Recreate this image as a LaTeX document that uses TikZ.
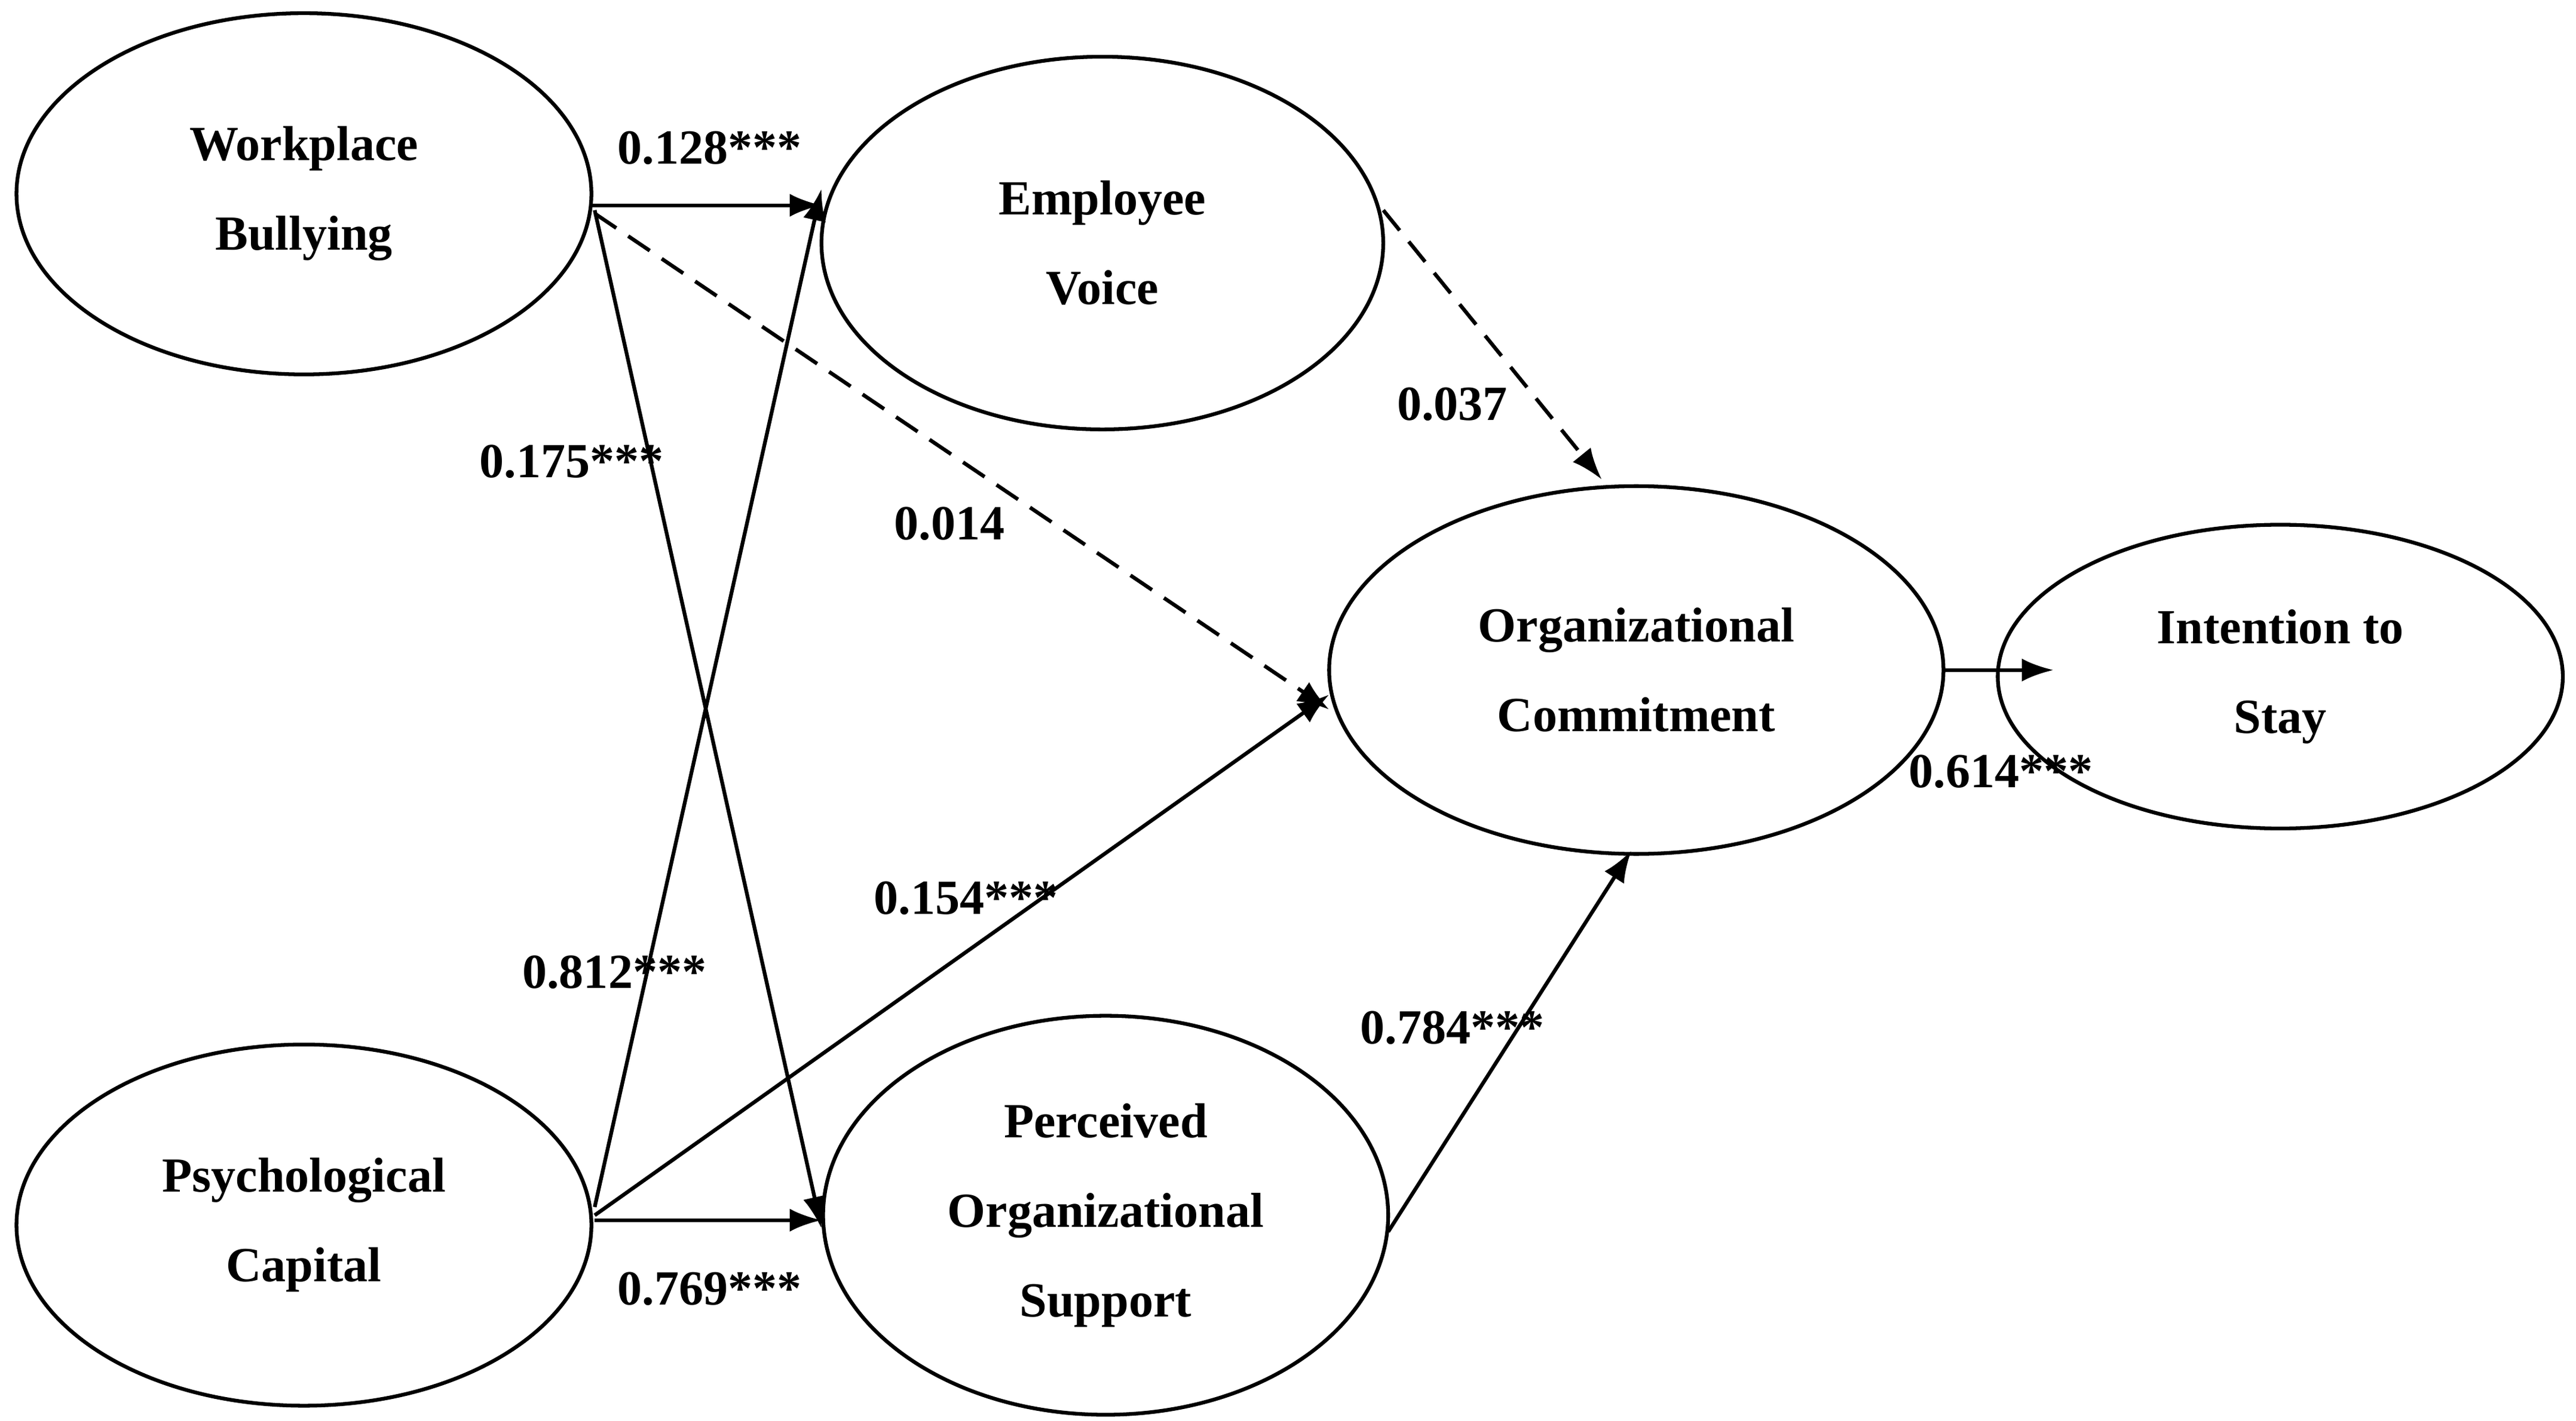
\documentclass[tikz,border=0pt]{standalone}
\usepackage{fontspec}
\setmainfont{Liberation Serif}
\usetikzlibrary{shapes.geometric,arrows.meta}
\begin{document}
\begin{tikzpicture}[x=0.02cm,y=-0.02cm,
  el/.style={ellipse,draw,line width=1.3pt,align=center,font=\fontsize{17}{31}\selectfont\bfseries,inner sep=0pt},
  lab/.style={font=\fontsize{17}{20}\selectfont\bfseries},
  arr/.style={line width=1.3pt,-{Latex[length=11pt,width=8pt]}},
  darr/.style={arr,dash pattern=on 9pt off 5pt}]
\useasboundingbox (0,0) rectangle (1568,865);
\node[el,minimum width=7cm,minimum height=4.4cm] (wb) at (185,118) {Workplace\\Bullying};
\node[el,minimum width=6.84cm,minimum height=4.54cm] (ev) at (671,148) {Employee\\Voice};
\node[el,minimum width=7.48cm,minimum height=4.48cm] (oc) at (996,408) {Organizational\\Commitment};
\node[el,minimum width=6.88cm,minimum height=3.7cm] (is) at (1388,412) {Intention to\\Stay};
\node[el,minimum width=7cm,minimum height=4.4cm] (pc) at (185,746) {Psychological\\Capital};
\node[el,minimum width=6.88cm,minimum height=4.86cm] (pos) at (673,740) {Perceived\\Organizational\\Support};
\coordinate (a1) at (360,125); \coordinate (b1) at (500,125);
\draw[arr] (a1) -- (b1);
\coordinate (a2) at (362,130); \coordinate (b2) at (809,432);
\draw[darr] (a2) -- (b2);
\coordinate (a3) at (362,128); \coordinate (b3) at (500,748);
\draw[arr] (a3) -- (b3);
\coordinate (a4) at (362,735); \coordinate (b4) at (500,115);
\draw[arr] (a4) -- (b4);
\coordinate (a5) at (362,740); \coordinate (b5) at (809,423);
\draw[arr] (a5) -- (b5);
\coordinate (a6) at (362,743); \coordinate (b6) at (500,743);
\draw[arr] (a6) -- (b6);
\coordinate (a7) at (842,128); \coordinate (b7) at (975,292);
\draw[darr] (a7) -- (b7);
\coordinate (a8) at (845,750); \coordinate (b8) at (993,518);
\draw[arr] (a8) -- (b8);
\coordinate (a9) at (1183,408); \coordinate (b9) at (1250,408);
\draw[arr] (a9) -- (b9);
\node[lab] (l1) at (432,90) {0.128***};
\node[lab] (l2) at (348,281) {0.175***};
\node[lab] (l3) at (578,319) {0.014};
\node[lab] (l4) at (884,246) {0.037};
\node[lab] (l5) at (588,547) {0.154***};
\node[lab] (l6) at (374,592) {0.812***};
\node[lab] (l7) at (884,626) {0.784***};
\node[lab] (l8) at (432,785) {0.769***};
\node[lab] (l9) at (1218,470) {0.614***};
\end{tikzpicture}
\end{document}
